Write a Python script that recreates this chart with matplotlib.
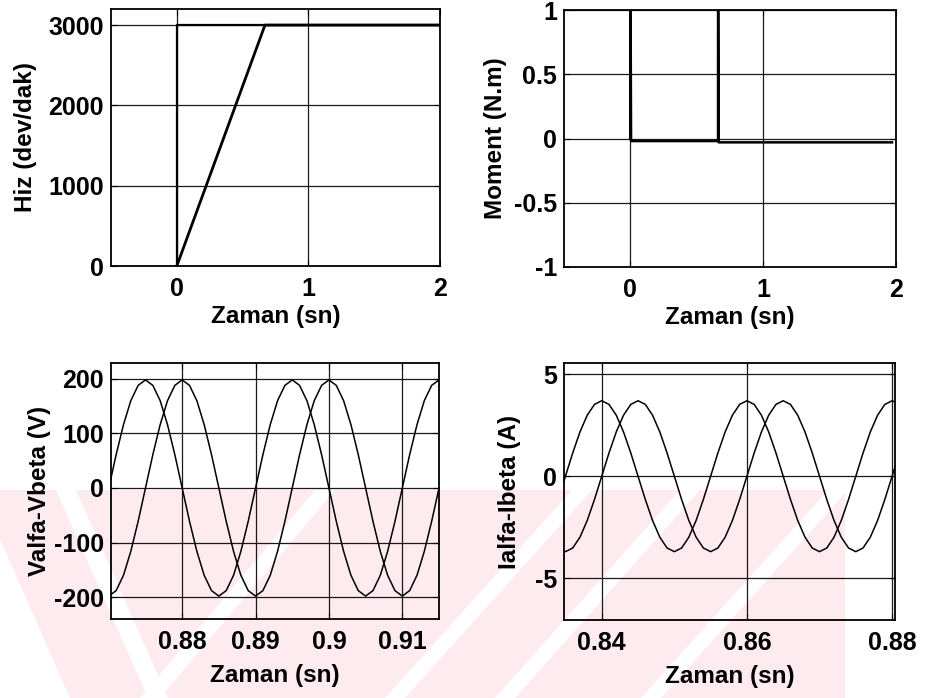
import matplotlib
matplotlib.use("Agg")
import matplotlib.pyplot as plt
from matplotlib.patches import Polygon, Rectangle

plt.rcParams['font.family'] = ['Liberation Sans', 'DejaVu Sans']
plt.rcParams['font.weight'] = 'bold'
plt.rcParams['axes.unicode_minus'] = False

# --- speed (dev/dak) ---
t_ref = [0.0, 0.0, 2.0]
n_ref = [0, 3000, 3000]
t_hiz = [0.0, 0.67, 2.0]
n_hiz = [0, 3000, 3000]

# --- torque (N.m) ---
t_mom = [0.0, 0.0, 0.005, 0.66, 0.66, 0.665, 1.97]
m_mom = [0.0, 1.5, -0.02, -0.02, 1.5, -0.03, -0.03]

# --- alpha-beta voltages, 1 ms samples from 0.870 s ---
t_v0, dt_v = 0.870, 0.001
v_alfa = [0, 61, 116, 160, 188, 198, 188, 160, 116, 61,
          0, -61, -116, -160, -188, -198, -188, -160, -116, -61,
          0, 61, 116, 160, 188, 198, 188, 160, 116, 61,
          0, -61, -116, -160, -188, -198, -188, -160, -116, -61,
          0, 61, 116, 160, 188, 198]
v_beta = [-198, -188, -160, -116, -61, 0, 61, 116, 160, 188,
          198, 188, 160, 116, 61, 0, -61, -116, -160, -188,
          -198, -188, -160, -116, -61, 0, 61, 116, 160, 188,
          198, 188, 160, 116, 61, 0, -61, -116, -160, -188,
          -198, -188, -160, -116, -61, 0]

# --- alpha-beta currents, 1 ms samples from 0.834 s ---
t_i0, dt_i = 0.834, 0.001
i_alfa = [-1.14, 0, 1.14, 2.17, 2.99, 3.52, 3.70, 3.52, 2.99, 2.17,
          1.14, 0, -1.14, -2.17, -2.99, -3.52, -3.70, -3.52, -2.99, -2.17,
          -1.14, 0, 1.14, 2.17, 2.99, 3.52, 3.70, 3.52, 2.99, 2.17,
          1.14, 0, -1.14, -2.17, -2.99, -3.52, -3.70, -3.52, -2.99, -2.17,
          -1.14, 0, 1.14, 2.17, 2.99, 3.52, 3.70, 3.52]
i_beta = [-3.52, -3.70, -3.52, -2.99, -2.17, -1.14, 0, 1.14, 2.17, 2.99,
          3.52, 3.70, 3.52, 2.99, 2.17, 1.14, 0, -1.14, -2.17, -2.99,
          -3.52, -3.70, -3.52, -2.99, -2.17, -1.14, 0, 1.14, 2.17, 2.99,
          3.52, 3.70, 3.52, 2.99, 2.17, 1.14, 0, -1.14, -2.17, -2.99,
          -3.52, -3.70, -3.52, -2.99, -2.17, -1.14, 0, 1.14]

t_v = [t_v0 + k * dt_v for k in range(len(v_alfa))]
t_i = [t_i0 + k * dt_i for k in range(len(i_alfa))]

W, H = 925, 698
fig = plt.figure(figsize=(W / 100, H / 100), dpi=100)
fig.patch.set_facecolor('white')


def px(x, y):
    return (x / W, 1 - y / H)


# faint diagonal-stripe stamp behind the lower plots
wm_pink = '#fdebef'
box = Rectangle(px(0, 698), 845 / W, 208 / H, transform=fig.transFigure,
                facecolor=wm_pink, edgecolor='none', zorder=0)
fig.add_artist(box)
bands = [((66, 490), (158, 698)), ((325, 490), (150, 698)),
         ((582, 490), (395, 698)), ((690, 490), (505, 698)),
         ((838, 490), (651, 698))]
for (xa, ya), (xb, yb) in bands:
    hw = 10
    pts = [px(xa - hw, ya), px(xa + hw, ya), px(xb + hw, yb), px(xb - hw, yb)]
    p = Polygon(pts, closed=True, transform=fig.transFigure,
                facecolor='white', edgecolor='none', zorder=0.5)
    fig.add_artist(p)
    p.set_clip_path(box)
corner = Polygon([px(0, 539), px(70, 698), px(0, 698)], closed=True,
                 transform=fig.transFigure, facecolor='white',
                 edgecolor='none', zorder=0.5)
fig.add_artist(corner)


def make_ax(left, top, right, bottom):
    ax = fig.add_axes([left / W, 1 - bottom / H, (right - left) / W, (bottom - top) / H])
    ax.set_zorder(2)
    ax.set_facecolor('none')
    ax.grid(True, color='#1a1a1a', linewidth=0.9)
    ax.set_axisbelow(True)
    for s in ax.spines.values():
        s.set_linewidth(1.3)
        s.set_color('black')
    ax.tick_params(direction='in', length=4, width=0.8, labelsize=18,
                   top=True, right=True)
    ax.tick_params(axis='x', pad=8)
    ax.tick_params(axis='y', pad=5)
    return ax


label_kw = dict(fontsize=17.5, fontweight='bold')

# speed
ax1 = make_ax(111, 9, 440, 266)
ax1.plot(t_ref, n_ref, color='black', linewidth=1.6)
ax1.plot(t_hiz, n_hiz, color='black', linewidth=2.0)
ax1.set_xlim(-0.5, 2)
ax1.set_ylim(0, 3200)
ax1.set_xticks([0, 1, 2])
ax1.set_yticks([0, 1000, 2000, 3000])
ax1.set_xlabel('Zaman (sn)', labelpad=3, **label_kw)
ax1.set_ylabel('Hiz (dev/dak)', labelpad=8, **label_kw)

# torque
ax2 = make_ax(564, 10, 896, 267)
ax2.plot(t_mom, m_mom, color='black', linewidth=1.8)
ax2.set_xlim(-0.5, 2)
ax2.set_ylim(-1, 1)
ax2.set_xticks([0, 1, 2])
ax2.set_yticks([-1, -0.5, 0, 0.5, 1])
ax2.set_yticklabels(['-1', '-0.5', '0', '0.5', '1'])
ax2.set_xlabel('Zaman (sn)', labelpad=3, **label_kw)
ax2.set_ylabel('Moment (N.m)', labelpad=5, **label_kw)

# voltages
ax3 = make_ax(111, 363, 439, 619)
ax3.plot(t_v, v_alfa, color='black', linewidth=1.1)
ax3.plot(t_v, v_beta, color='black', linewidth=1.1)
ax3.set_xlim(0.8703, 0.915)
ax3.set_ylim(-240, 229)
ax3.set_xticks([0.88, 0.89, 0.90, 0.91])
ax3.set_xticklabels(['0.88', '0.89', '0.9', '0.91'])
ax3.set_yticks([-200, -100, 0, 100, 200])
ax3.set_xlabel('Zaman (sn)', labelpad=7, **label_kw)
ax3.set_ylabel('Valfa-Vbeta (V)', labelpad=2, **label_kw)

# currents
ax4 = make_ax(564, 363, 895, 620)
ax4.plot(t_i, i_alfa, color='black', linewidth=1.1)
ax4.plot(t_i, i_beta, color='black', linewidth=1.1)
ax4.set_xlim(0.8348, 0.8804)
ax4.set_ylim(-7.05, 5.55)
ax4.set_xticks([0.84, 0.86, 0.88])
ax4.set_xticklabels(['0.84', '0.86', '0.88'])
ax4.set_yticks([-5, 0, 5])
ax4.set_xlabel('Zaman (sn)', labelpad=7, **label_kw)
ax4.set_ylabel('Ialfa-Ibeta (A)', labelpad=10, **label_kw)

fig.savefig('out.png', dpi=100)
